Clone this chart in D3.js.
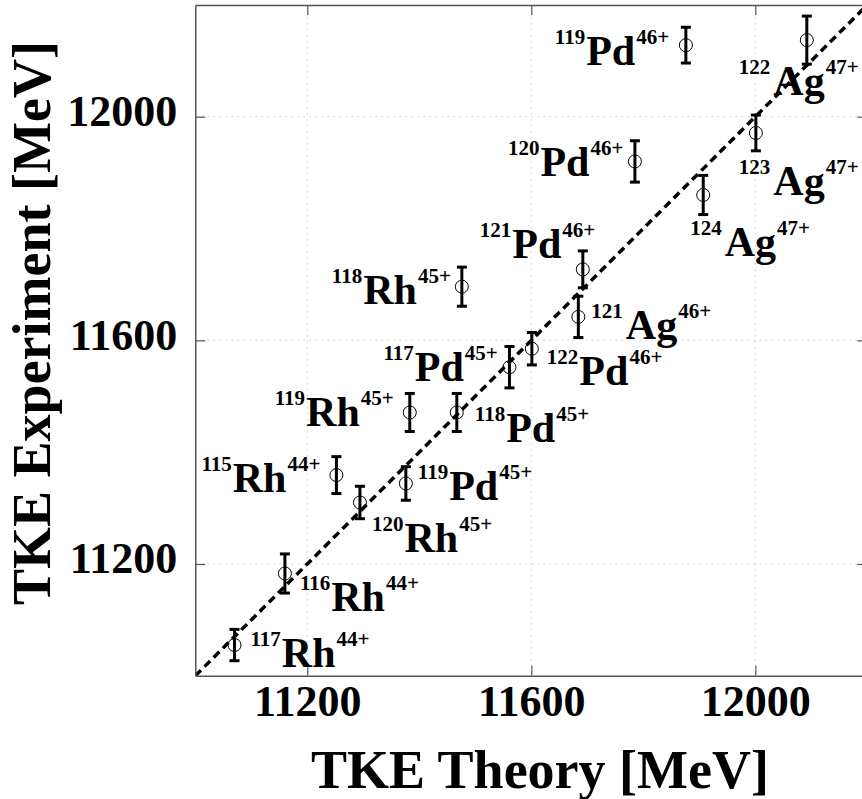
<!DOCTYPE html>
<html>
<head>
<meta charset="utf-8">
<script src="https://cdn.jsdelivr.net/npm/d3@7"></script>
<style>
body{margin:0;background:#fff;}
svg{display:block;}
text{font-family:"Liberation Serif","Times New Roman",serif;font-weight:bold;fill:#000;}
</style>
</head>
<body>
<svg id="chart"></svg>
<script>
// isotopes
var massNumbers = [117,116,120,115,119,119,118,117,122,121,121,118,120,124,123,119,122];
var elements = ["Rh","Rh","Rh","Rh","Pd","Rh","Pd","Pd","Pd","Ag","Pd","Rh","Pd","Ag","Ag","Pd","Ag"];
var charges = ["44+","44+","45+","44+","45+","45+","45+","45+","46+","46+","46+","45+","46+","47+","47+","46+","47+"];
var tkeTheory = [11070,11160,11294,11252,11376,11383,11467,11561,11601,11684,11692,11476,11785,11907,12001,11876,12092];
var tkeExperiment = [11055,11183,11310,11359,11344,11471,11471,11552,11585,11642,11727,11696,11920,11860,11971,12128,12137];
var tkeError = [28,35,29,33,30,34,34,37,29,37,33,35,37,35,32,32,43];
var tickValues = [11200,11600,12000];
var axisDomain = [11000,12200];

// where each label starts relative to its point (px)
var labelOffsets = [[16,22],[15,38],[12,50],[-135,17],[12,17],[-135,14],[18,30],[-126,14],[15,36],[13,22],[-103,-11],[-130,17],[-127,15],[-13,61],[-17,62],[-131,20],[-68,55]];

var width = 862, height = 799;
var plotLeft = 195.3, plotRight = 867.3, plotTop = 4.9, plotBottom = 675.8;

var svg = d3.select("#chart").attr("width", width).attr("height", height);

var xScale = d3.scaleLinear().domain(axisDomain).range([plotLeft, plotRight]);
var yScale = d3.scaleLinear().domain(axisDomain).range([plotBottom, plotTop]);

var data = massNumbers.map(function(m, i){
	return {mass: m, el: elements[i], charge: charges[i], x: tkeTheory[i], y: tkeExperiment[i], err: tkeError[i], off: labelOffsets[i]};
});

svg.append("defs").append("clipPath").attr("id", "plotClip")
	.append("rect").attr("x", plotLeft).attr("y", plotTop).attr("width", plotRight - plotLeft).attr("height", plotBottom - plotTop);

// grid
var grid = svg.append("g");
grid.selectAll(".gx").data(tickValues).enter().append("line")
	.attr("x1", function(d){return xScale(d)}).attr("x2", function(d){return xScale(d)})
	.attr("y1", plotTop).attr("y2", plotBottom)
	.style("stroke", "#d8d8d8").style("stroke-dasharray", "2,4");
grid.selectAll(".gy").data(tickValues).enter().append("line")
	.attr("y1", function(d){return yScale(d)}).attr("y2", function(d){return yScale(d)})
	.attr("x1", plotLeft).attr("x2", plotRight)
	.style("stroke", "#d8d8d8").style("stroke-dasharray", "2,4");

// y = x
svg.append("line")
	.attr("clip-path", "url(#plotClip)")
	.attr("x1", xScale(axisDomain[0])).attr("y1", yScale(axisDomain[0]))
	.attr("x2", xScale(axisDomain[1])).attr("y2", yScale(axisDomain[1]))
	.style("stroke", "#000").style("stroke-width", 3.5).style("stroke-dasharray", "8,5");

// axes
function styleAxis(g){
	g.select(".domain").style("stroke", "#555").style("stroke-width", 1.5);
	g.selectAll(".tick line").style("stroke", "#555").style("stroke-width", 1.2);
	g.selectAll("text").style("font-size", "44px").style("font-family", "'Liberation Serif','Times New Roman',serif").style("font-weight", "bold").attr("fill", "#000");
}
svg.append("g").attr("transform", "translate(0," + plotBottom + ")")
	.call(d3.axisBottom(xScale).tickValues(tickValues).tickSizeInner(-10).tickSizeOuter(0).tickPadding(9).tickFormat(d3.format("d")))
	.call(styleAxis);
svg.append("g").attr("transform", "translate(" + plotLeft + ",0)")
	.call(d3.axisLeft(yScale).tickValues(tickValues).tickSizeInner(-10).tickSizeOuter(0).tickPadding(18).tickFormat(d3.format("d")))
	.call(styleAxis)
	.selectAll("text").attr("dy", "9px");
svg.append("g").attr("transform", "translate(0," + plotTop + ")")
	.call(d3.axisTop(xScale).tickValues(tickValues).tickSizeInner(-10).tickSizeOuter(0).tickFormat(""))
	.call(styleAxis);
svg.append("g").attr("transform", "translate(" + plotRight + ",0)")
	.call(d3.axisRight(yScale).tickValues(tickValues).tickSizeInner(-10).tickSizeOuter(0).tickFormat(""))
	.call(styleAxis);

// error bars
var bars = svg.append("g").selectAll("g").data(data).enter().append("g")
	.style("stroke", "#000").style("stroke-width", 3);
bars.append("line")
	.attr("x1", function(d){return xScale(d.x)}).attr("x2", function(d){return xScale(d.x)})
	.attr("y1", function(d){return yScale(d.y - d.err)}).attr("y2", function(d){return yScale(d.y + d.err)});
bars.append("line")
	.attr("x1", function(d){return xScale(d.x) - 5}).attr("x2", function(d){return xScale(d.x) + 5})
	.attr("y1", function(d){return yScale(d.y + d.err)}).attr("y2", function(d){return yScale(d.y + d.err)});
bars.append("line")
	.attr("x1", function(d){return xScale(d.x) - 5}).attr("x2", function(d){return xScale(d.x) + 5})
	.attr("y1", function(d){return yScale(d.y - d.err)}).attr("y2", function(d){return yScale(d.y - d.err)});

svg.append("g").selectAll("circle").data(data).enter().append("circle")
	.attr("cx", function(d){return xScale(d.x)})
	.attr("cy", function(d){return yScale(d.y)})
	.attr("r", 6.5)
	.style("fill", "none").style("stroke", "#000").style("stroke-width", 1);

// isotope labels
var labels = svg.append("g").selectAll("text").data(data).enter().append("text")
	.attr("x", function(d){return xScale(d.x) + d.off[0]})
	.attr("y", function(d){return yScale(d.y) + d.off[1]});
labels.append("tspan").style("font-size", "21px").attr("dy", -21).text(function(d){return d.mass});
labels.append("tspan").style("font-size", "42px").attr("dy", 21)
	.attr("dx", function(d){return d.el == "Ag" ? 3 : 1})
	.text(function(d){return d.el});
labels.append("tspan").style("font-size", "21px").attr("dy", -21).attr("dx", 1).text(function(d){return d.charge});

// axis titles
svg.append("text").attr("x", 540).attr("y", 788).attr("text-anchor", "middle")
	.style("font-size", "54px").text("TKE Theory [MeV]");
svg.append("text").attr("transform", "translate(50,323) rotate(-90)").attr("text-anchor", "middle")
	.style("font-size", "54px").text("TKE Experiment [MeV]");
</script>
</body>
</html>
